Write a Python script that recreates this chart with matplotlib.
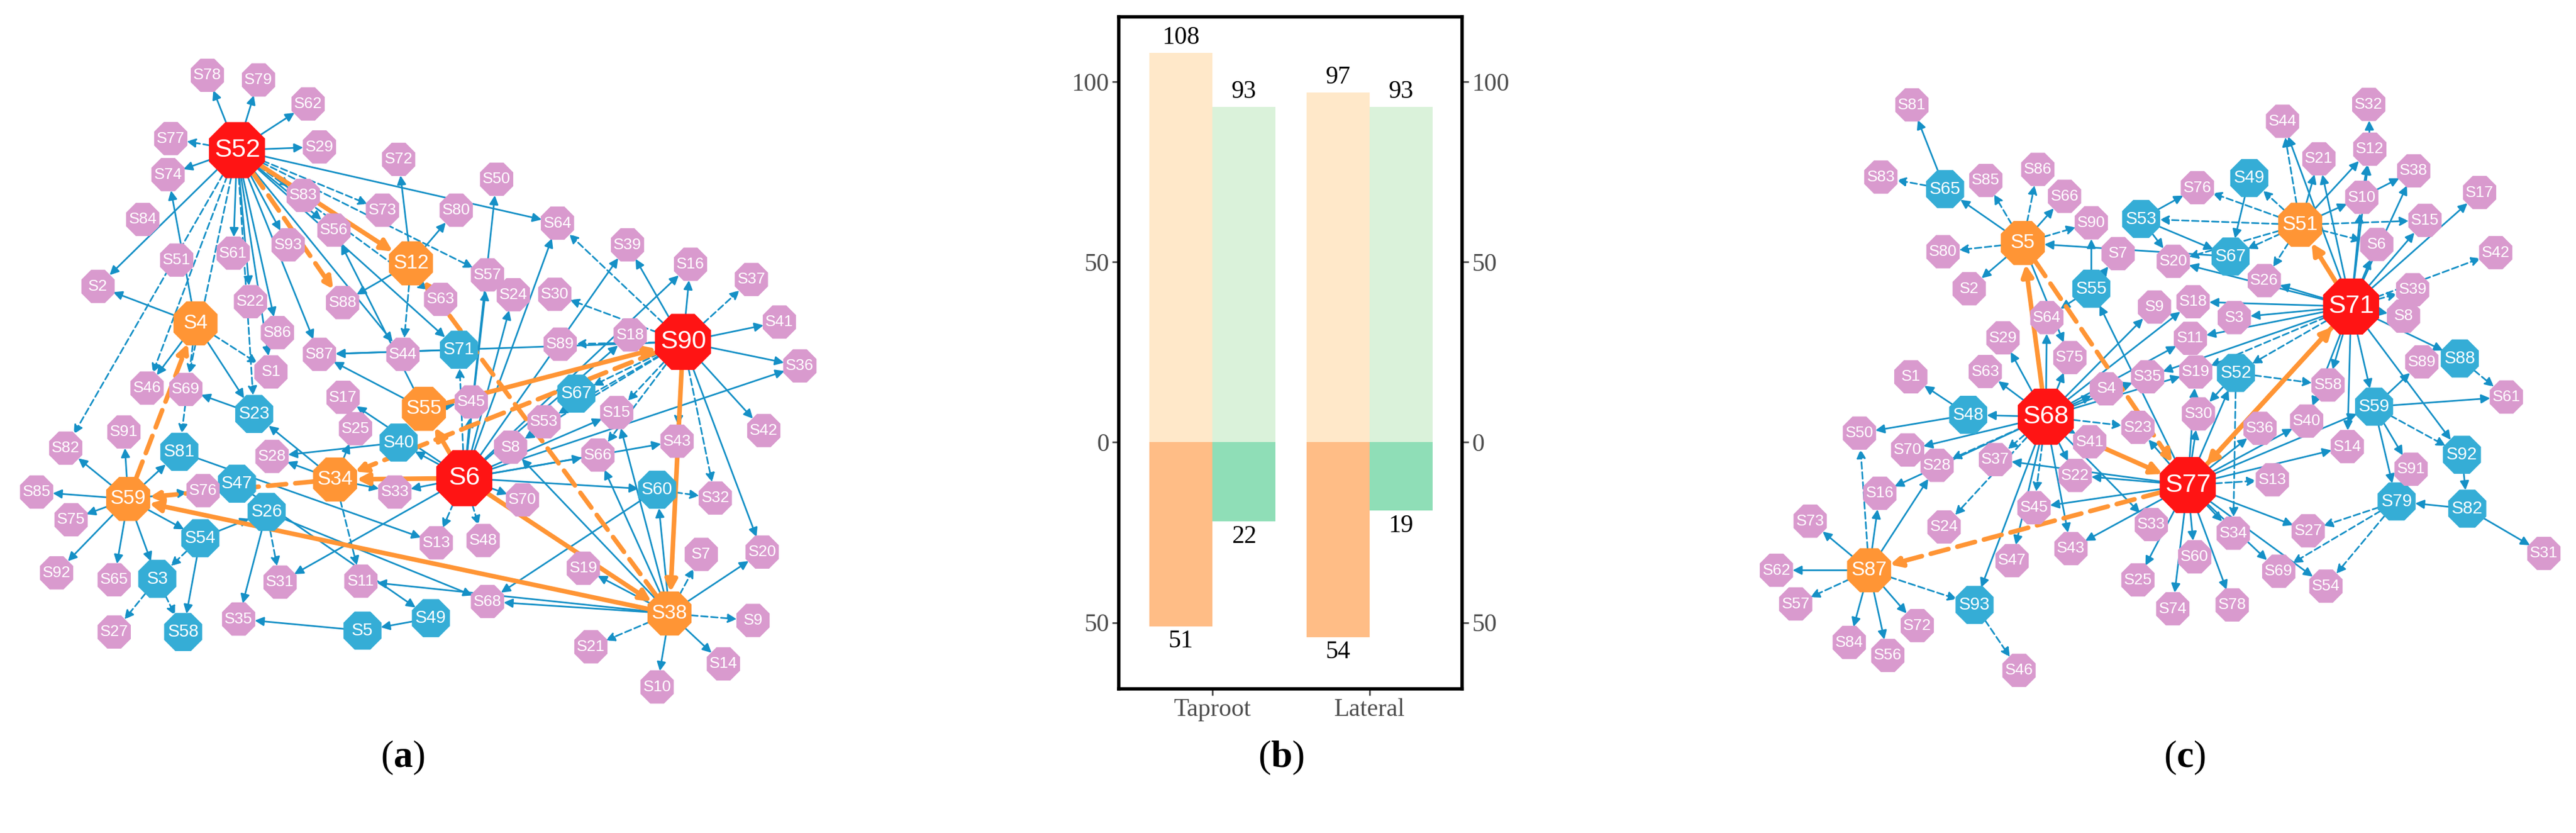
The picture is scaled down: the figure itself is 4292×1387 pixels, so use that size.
import numpy as np
import matplotlib
matplotlib.use("Agg")
import matplotlib.pyplot as plt
from matplotlib.patches import RegularPolygon, FancyArrowPatch

a_pos = {
    'S52': (440, 325), 'S90': (1268, 740), 'S6': (862, 1035),
    'S4': (363, 700), 'S12': (763, 570), 'S55': (787, 885), 'S34': (622, 1038),
    'S59': (238, 1080), 'S38': (1243, 1328),
    'S71': (852, 757), 'S67': (1070, 852), 'S23': (472, 896), 'S40': (740, 958),
    'S81': (333, 978), 'S47': (440, 1047), 'S26': (495, 1108), 'S54': (372, 1165),
    'S3': (292, 1253), 'S58': (340, 1368), 'S60': (1220, 1060), 'S5': (673, 1365),
    'S49': (800, 1338),
    'S78': (385, 163), 'S79': (480, 173), 'S62': (572, 225), 'S29': (593, 318),
    'S77': (317, 300), 'S74': (312, 378), 'S84': (265, 475), 'S83': (563, 423),
    'S73': (710, 455), 'S72': (740, 345), 'S50': (922, 388), 'S80': (847, 455),
    'S64': (1035, 483), 'S56': (620, 498), 'S93': (535, 530), 'S61': (433, 548),
    'S51': (328, 563), 'S2': (182, 620), 'S22': (465, 653), 'S88': (636, 655),
    'S63': (818, 648), 'S57': (905, 595), 'S24': (953, 638), 'S30': (1030, 637),
    'S39': (1165, 530), 'S16': (1282, 572), 'S37': (1395, 605), 'S41': (1447, 697),
    'S36': (1485, 792), 'S86': (515, 720), 'S87': (593, 767), 'S44': (748, 767),
    'S89': (1040, 745), 'S18': (1170, 725), 'S1': (503, 805), 'S46': (273, 840),
    'S69': (345, 843), 'S17': (637, 860), 'S45': (875, 870), 'S15': (1145, 893),
    'S53': (1010, 913), 'S25': (660, 928), 'S91': (230, 935), 'S82': (122, 970),
    'S28': (505, 988), 'S8': (948, 968), 'S66': (1110, 985), 'S43': (1257, 955),
    'S42': (1418, 932), 'S85': (68, 1065), 'S76': (377, 1062), 'S33': (733, 1065),
    'S70': (970, 1082), 'S32': (1328, 1078), 'S75': (132, 1125), 'S13': (810, 1175),
    'S48': (897, 1170), 'S92': (105, 1240), 'S65': (212, 1255), 'S31': (520, 1260),
    'S11': (670, 1258), 'S19': (1083, 1230), 'S7': (1302, 1200), 'S20': (1415, 1195),
    'S68': (905, 1302), 'S27': (212, 1368), 'S35': (443, 1340), 'S21': (1097, 1400),
    'S9': (1398, 1343), 'S14': (1343, 1437), 'S10': (1220, 1487),
}
a_red = ['S52', 'S90', 'S6']
a_orange = ['S4', 'S12', 'S55', 'S34', 'S59', 'S38']
a_blue = ['S71', 'S67', 'S23', 'S40', 'S81', 'S47', 'S26', 'S54', 'S3', 'S58',
          'S60', 'S5', 'S49']
# edge: "source>target style"; s solid, d dashed, S/D thick orange
a_edges = """
S52>S78 s,S52>S79 s,S52>S62 s,S52>S29 s,S52>S77 d,S52>S74 s,S52>S2 s,S52>S61 s,
S52>S22 s,S52>S86 s,S52>S93 s,S52>S83 d,S52>S56 s,S52>S73 d,S52>S64 s,S52>S12 S,
S52>S88 D,S52>S87 s,S52>S71 s,S52>S44 s,S52>S23 d,S52>S69 d,S52>S57 d,S52>S63 d,
S52>S1 s,S52>S46 d,S52>S82 d,
S90>S16 s,S90>S39 s,S90>S37 d,S90>S41 s,S90>S36 s,S90>S42 s,S90>S20 s,S90>S32 d,
S90>S43 d,S90>S15 d,S90>S87 s,S90>S64 d,S90>S30 d,S90>S67 d,S90>S53 d,S90>S38 S,
S90>S34 D,S55>S90 S,S90>S8 d,S90>S89 d,S90>S66 d,
S6>S71 d,S6>S55 S,S6>S34 S,S6>S33 s,S6>S70 s,S6>S48 d,S6>S13 d,S6>S45 s,S6>S57 s,
S6>S50 s,S6>S24 s,S6>S64 s,S6>S39 s,S6>S16 s,S6>S36 s,S6>S60 s,S6>S43 s,S6>S66 s,
S6>S31 s,S6>S40 s,S6>S17 s,S6>S15 s,S6>S18 s,S6>S38 S,
S38>S59 S,S38>S12 D,S38>S10 s,S38>S14 s,S38>S9 d,S38>S21 d,S38>S20 s,S38>S7 d,
S38>S60 s,S38>S19 s,S38>S66 s,S38>S15 s,S38>S68 s,S38>S11 s,S38>S8 s,
S59>S85 s,S59>S75 s,S59>S92 s,S59>S65 s,S59>S3 s,S59>S54 s,S59>S82 s,S59>S91 s,
S59>S81 s,S59>S76 s,S59>S4 D,S34>S59 D,
S4>S2 s,S4>S1 d,S4>S23 s,S4>S46 s,S4>S74 s,S4>S81 d,
S12>S72 s,S12>S80 s,S12>S88 s,S12>S44 d,
S34>S25 s,S34>S28 s,S34>S11 d,S34>S23 s,S34>S33 s,
S55>S87 s,S55>S56 s,S55>S45 s,
S71>S87 s,S40>S28 s,S81>S13 s,S47>S49 s,S26>S35 s,S26>S31 d,S26>S68 s,
S54>S3 d,S54>S58 s,S54>S26 s,S3>S27 d,S3>S58 d,S5>S35 s,S49>S5 s,S60>S32 d,
S60>S68 s,S23>S69 s
"""

# ---- panel (c) network ----
c_pos = {
    'S68': (570, 866), 'S77': (835, 1008), 'S71': (1140, 637),
    'S5': (527, 505), 'S51': (1045, 467), 'S87': (240, 1185),
    'S65': (382, 393), 'S53': (748, 455), 'S49': (950, 370), 'S67': (915, 533),
    'S55': (655, 600), 'S52': (925, 775), 'S48': (425, 862), 'S59': (1183, 845),
    'S88': (1343, 745), 'S92': (1347, 945), 'S79': (1225, 1042), 'S82': (1357, 1057),
    'S93': (437, 1257),
    'S81': (320, 218), 'S83': (262, 368), 'S85': (458, 375), 'S86': (555, 352),
    'S66': (605, 408), 'S90': (655, 463), 'S80': (378, 523), 'S2': (427, 600),
    'S7': (705, 527), 'S76': (853, 390), 'S20': (808, 543), 'S44': (1012, 252),
    'S32': (1173, 217), 'S21': (1080, 330), 'S12': (1175, 310), 'S38': (1257, 355),
    'S10': (1160, 410), 'S17': (1380, 400), 'S15': (1278, 458), 'S6': (1188, 508),
    'S42': (1410, 525), 'S26': (978, 583), 'S39': (1255, 602), 'S8': (1238, 657),
    'S64': (572, 660), 'S9': (773, 638), 'S18': (845, 627), 'S3': (922, 660),
    'S29': (490, 702), 'S11': (840, 703), 'S75': (615, 743), 'S63': (457, 772),
    'S1': (318, 783), 'S4': (683, 808), 'S35': (760, 783), 'S19': (850, 773),
    'S89': (1272, 752), 'S58': (1097, 800), 'S61': (1430, 825), 'S30': (855, 860),
    'S23': (742, 888), 'S36': (970, 890), 'S40': (1057, 875), 'S41': (652, 918),
    'S14': (1133, 928), 'S50': (222, 900), 'S70': (312, 935), 'S28': (367, 967),
    'S37': (476, 955), 'S22': (625, 988), 'S13': (993, 997), 'S91': (1252, 975),
    'S16': (260, 1025), 'S73': (130, 1083), 'S24': (380, 1095), 'S45': (548, 1055),
    'S33': (767, 1090), 'S34': (920, 1108), 'S27': (1060, 1103), 'S62': (67, 1185),
    'S43': (617, 1140), 'S47': (507, 1165), 'S60': (848, 1157), 'S69': (1005, 1187),
    'S54': (1093, 1218), 'S31': (1500, 1150), 'S57': (103, 1255), 'S25': (742, 1205),
    'S74': (807, 1265), 'S78': (918, 1257), 'S72': (330, 1300), 'S84': (203, 1335),
    'S56': (275, 1362), 'S46': (520, 1393),
}
c_red = ['S68', 'S77', 'S71']
c_orange = ['S5', 'S51', 'S87']
c_blue = ['S65', 'S53', 'S49', 'S67', 'S55', 'S52', 'S48', 'S59', 'S88', 'S92',
          'S79', 'S82', 'S93']
c_edges = """
S68>S5 S,S68>S64 s,S68>S29 s,S68>S63 s,S68>S48 s,S48>S50 s,S68>S70 s,S68>S28 d,
S68>S37 d,S68>S45 d,S68>S43 s,S68>S47 s,S68>S93 s,S68>S41 s,S68>S23 d,S68>S22 s,
S68>S33 s,S68>S9 s,S68>S18 s,S68>S11 s,S68>S35 s,S68>S19 s,S68>S4 s,S68>S75 s,
S68>S16 s,S68>S24 d,
S77>S87 D,S71>S77 S,S77>S71 S,S41>S77 S,S5>S77 D,S77>S30 s,S77>S52 s,S77>S14 s,
S77>S13 d,S77>S27 s,S77>S54 s,S77>S69 s,S77>S34 s,S77>S78 s,S77>S60 s,S77>S74 s,
S77>S25 s,S77>S43 s,S77>S45 s,S77>S37 s,S77>S22 s,S77>S40 s,S77>S36 s,S77>S59 s,
S77>S55 s,S77>S23 s,S77>S19 s,
S71>S51 S,S71>S44 s,S71>S21 s,S71>S12 s,S71>S10 s,S71>S38 s,S71>S15 s,S71>S6 s,
S71>S17 s,S71>S39 d,S71>S42 d,S71>S8 s,S71>S88 s,S71>S92 s,S71>S59 s,S71>S14 s,
S71>S40 s,S71>S26 s,S71>S18 s,S71>S3 s,S71>S11 s,S71>S35 s,S71>S19 d,S71>S52 d,
S71>S58 s,S71>S20 s,
S5>S65 s,S5>S85 d,S5>S86 d,S5>S66 s,S5>S90 d,S5>S80 d,S5>S2 s,S5>S75 s,
S65>S81 s,S65>S83 d,
S51>S53 d,S51>S76 d,S51>S49 d,S51>S44 d,S51>S21 s,S51>S10 s,S51>S15 d,S51>S6 d,
S51>S20 d,S51>S67 d,S51>S12 s,S51>S26 d,
S53>S76 s,S53>S67 s,S53>S20 s,S49>S67 s,S67>S5 s,S55>S90 s,S55>S64 s,S55>S7 s,
S87>S62 s,S87>S73 s,S87>S57 d,S87>S84 s,S87>S56 s,S87>S72 s,S87>S93 d,S87>S50 d,
S87>S16 s,S87>S28 s,
S93>S46 d,S48>S1 s,S52>S58 d,S52>S30 s,S52>S34 d,S59>S61 s,S59>S89 s,S59>S91 s,
S59>S79 s,S59>S92 d,S88>S61 d,S92>S82 s,S82>S79 s,S82>S31 s,S79>S27 d,S79>S54 d,
S79>S69 d,S10>S12 s,S10>S38 s,S12>S32 s
"""

# ---- panel (b) bars ----
categories = ['Taproot', 'Lateral']
orange_up = [108, 97]
green_up = [93, 93]
orange_down = [51, 54]
green_down = [22, 19]

PINK, BLUE, ORANGE, RED = '#D99ACE', '#35ADD6', '#FF9535', '#FF1414'
EDGE_BLUE, EDGE_ORANGE = '#1590C6', '#FF9535'

plt.rcParams['font.family'] = ['Liberation Sans', 'DejaVu Sans']
plt.rcParams['mathtext.fontset'] = 'custom'
plt.rcParams['mathtext.rm'] = 'Liberation Serif'
plt.rcParams['mathtext.bf'] = 'Liberation Serif:bold'

fig = plt.figure(figsize=(42.92, 13.87), dpi=100)
net = fig.add_axes([0, 0, 1, 1])
net.set_xlim(0, 4292)
net.set_ylim(1387, 0)
net.axis('off')


def draw_net(pos, reds, oranges, blues, edges, x0, sx, sy):
    P = {k: (x0 + x * sx, y * sy) for k, (x, y) in pos.items()}
    kind = {}
    for k in pos:
        kind[k] = 'red' if k in reds else 'orange' if k in oranges else \
            'blue' if k in blues else 'pink'
    radius = {'red': 46, 'orange': 36, 'blue': 31, 'pink': 27}
    colour = {'red': RED, 'orange': ORANGE, 'blue': BLUE, 'pink': PINK}
    fsize = {'red': 31, 'orange': 24, 'blue': 21, 'pink': 19}
    for item in edges.replace('\n', '').split(','):
        item = item.strip()
        if not item:
            continue
        pair, style = item.split()
        a, b = pair.split('>')
        thick = style in 'SD'
        dashed = style in 'dD'
        arr = FancyArrowPatch(
            P[a], P[b], arrowstyle='-|>',
            mutation_scale=28 if thick else 22,
            color=EDGE_ORANGE if thick else EDGE_BLUE,
            lw=5.5 if thick else 2.0,
            linestyle=(0, (4, 2)) if dashed else '-',
            shrinkA=radius[kind[a]] * 0.72, shrinkB=radius[kind[b]] * 0.72,
            zorder=3 if thick else 2)
        net.add_patch(arr)
    for k, (x, y) in P.items():
        r = radius[kind[k]]
        net.add_patch(RegularPolygon((x, y), 8, radius=r / np.cos(np.pi / 8),
                                     orientation=np.pi / 8, color=colour[kind[k]],
                                     zorder=4))
        net.text(x, y, k, ha='center', va='center', color='white',
                 fontsize=fsize[kind[k]], zorder=5)


draw_net(a_pos, a_red, a_orange, a_blue, a_edges, 0, 1400 / 1560, 1200 / 1560)
draw_net(c_pos, c_red, c_orange, c_blue, c_edges, 2900, 1392 / 1560, 1250 / 1560)

serif = ['Liberation Serif', 'DejaVu Serif']
for lab, x in [('a', 671), ('b', 2135), ('c', 3640)]:
    net.text(x, 1262, r'$\mathrm{(}\mathbf{%s}\mathrm{)}$' % lab, ha='center',
             va='center', fontsize=46)

ax = fig.add_axes([1864 / 4292, 1 - 1147 / 1387, 572 / 4292, 1119 / 1387])
xs = np.arange(len(categories))
w = 0.40
ax.bar(xs - w / 2, orange_up, w, color='#FFE8C9')
ax.bar(xs + w / 2, green_up, w, color='#DAF2DA')
ax.bar(xs - w / 2, [-v for v in orange_down], w, color='#FFBD86')
ax.bar(xs + w / 2, [-v for v in green_down], w, color='#8FDEB7')
for i in range(len(categories)):
    ax.text(xs[i] - w / 2, orange_up[i] + 1, str(orange_up[i]), ha='center',
            va='bottom', fontsize=30, family=serif)
    ax.text(xs[i] + w / 2, green_up[i] + 1, str(green_up[i]), ha='center',
            va='bottom', fontsize=30, family=serif)
    ax.text(xs[i] - w / 2, -orange_down[i] - 1, str(orange_down[i]), ha='center',
            va='top', fontsize=30, family=serif)
    ax.text(xs[i] + w / 2, -green_down[i] - 1, str(green_down[i]), ha='center',
            va='top', fontsize=30, family=serif)
ax.set_xlim(-0.596, 1.589)
ax.set_ylim(-68.4, 118)
ticks = [-50, 0, 50, 100]
ax.set_yticks(ticks)
ax.set_yticklabels([str(abs(t)) for t in ticks])
ax.set_xticks(xs)
ax.set_xticklabels(categories)
ax.tick_params(axis='y', which='both', left=True, right=True, labelright=True,
               labelsize=30, colors='#4D4D4D', length=8, width=2)
ax.tick_params(axis='x', labelsize=30, colors='#4D4D4D', length=8, width=2)
for lab in ax.get_xticklabels() + ax.get_yticklabels():
    lab.set_family(serif)
for sp in ax.spines.values():
    sp.set_linewidth(4)

fig.savefig('out.png', dpi=100)
